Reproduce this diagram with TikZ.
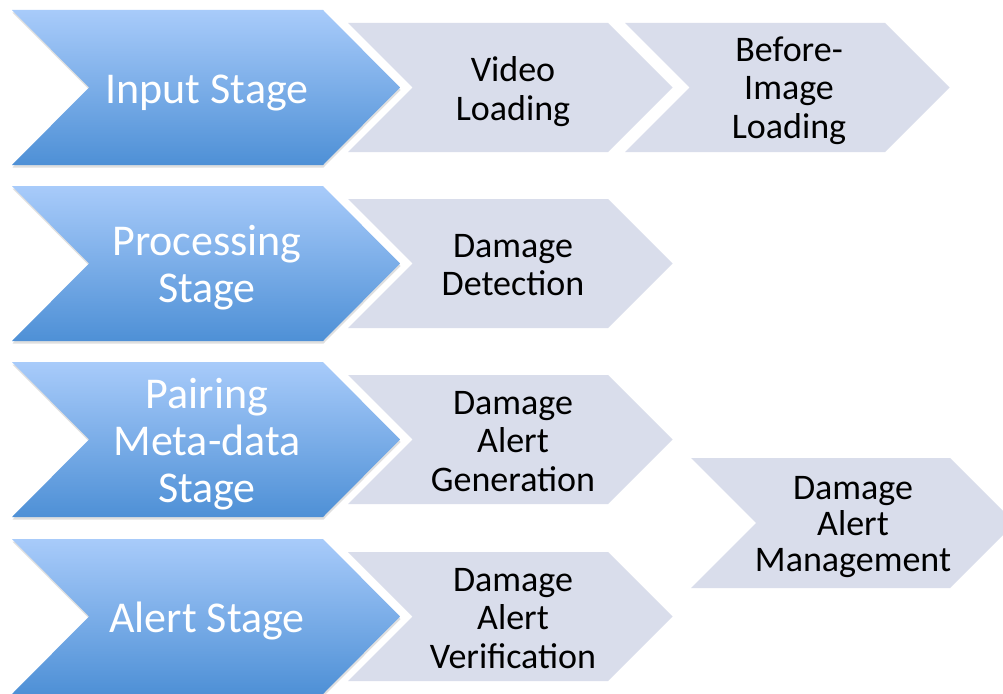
\documentclass[tikz,border=0pt]{standalone}
\usepackage{fontspec}
\setmainfont{Carlito}
\usetikzlibrary{shadows}
\definecolor{btop}{RGB}{168,203,250}
\definecolor{bbot}{RGB}{78,144,214}
\definecolor{gfill}{RGB}{217,221,235}
\newcommand\stacklines[1]{\begin{tabular}[t]{@{}c@{}}#1\end{tabular}}
\begin{document}
\begin{tikzpicture}[x=1pt,y=-1pt,
  bluechev/.style={top color=btop, bottom color=bbot, draw=none,
    drop shadow={opacity=0.25, shadow xshift=0.5pt, shadow yshift=-2.5pt}},
  greychev/.style={fill=gfill, draw=none},
  bluetext/.style={text=white, align=center, anchor=base, inner sep=0pt,
    font=\fontsize{44}{47}\selectfont},
  greytext/.style={text=black, align=center, anchor=base, inner sep=0pt,
    font=\fontsize{36}{38.5}\selectfont},
  mgmttext/.style={greytext, font=\fontsize{36}{36}\selectfont}]
\useasboundingbox (0,0) rectangle (1003,693);
\clip (0,0) rectangle (1003,693);
\fill[white] (0,0) rectangle (1003,693);

% grey chevrons
\path[greychev] (348,23) -- (608,23) -- (672.5,87.5) -- (608,152) -- (348,152) -- (412.5,87.5) -- cycle;
\path[greychev] (625,23) -- (885,23) -- (949.5,87.5) -- (885,152) -- (625,152) -- (689.5,87.5) -- cycle;
\path[greychev] (348,199) -- (608,199) -- (672.5,263.5) -- (608,328) -- (348,328) -- (412.5,263.5) -- cycle;
\path[greychev] (348,375) -- (608,375) -- (672.5,439.5) -- (608,504) -- (348,504) -- (412.5,439.5) -- cycle;
\path[greychev] (348,552) -- (608,552) -- (672.5,616.5) -- (608,681) -- (348,681) -- (412.5,616.5) -- cycle;
\path[greychev] (691,458) -- (950,458) -- (1015,523) -- (950,588) -- (691,588) -- (756,523) -- cycle;

% blue chevrons
\path[bluechev] (12,10) -- (323,10) -- (400,87.5) -- (323,165) -- (12,165) -- (89,87.5) -- cycle;
\path[bluechev] (12,186) -- (323,186) -- (400,263.5) -- (323,341) -- (12,341) -- (89,263.5) -- cycle;
\path[bluechev] (12,362) -- (323,362) -- (400,439.5) -- (323,517) -- (12,517) -- (89,439.5) -- cycle;
\path[bluechev] (12,539) -- (323,539) -- (400,616.5) -- (323,694) -- (12,694) -- (89,616.5) -- cycle;

% blue labels
\node[bluetext] (input) at (207,103) {Input Stage};
\node[bluetext] (proc) at (207,255) {\stacklines{Processing\\Stage}};
\node[bluetext] (pair) at (207,408) {\stacklines{Pairing\\Meta-data\\Stage}};
\node[bluetext] (alert) at (207,632) {Alert Stage};

% grey labels
\node[greytext] (video) at (513,81.5) {\stacklines{Video\\Loading}};
\node[greytext] (before) at (789,61.5) {\stacklines{Before-\\Image\\Loading}};
\node[greytext] (detect) at (513,257) {\stacklines{Damage\\Detection}};
\node[greytext] (gen) at (513,414) {\stacklines{Damage\\Alert\\Generation}};
\node[greytext] (verif) at (513,591) {\stacklines{Damage\\Alert\\Verification}};
\node[mgmttext] (mgmt) at (853,499.5) {\stacklines{Damage\\Alert\\Management}};
\end{tikzpicture}
\end{document}
